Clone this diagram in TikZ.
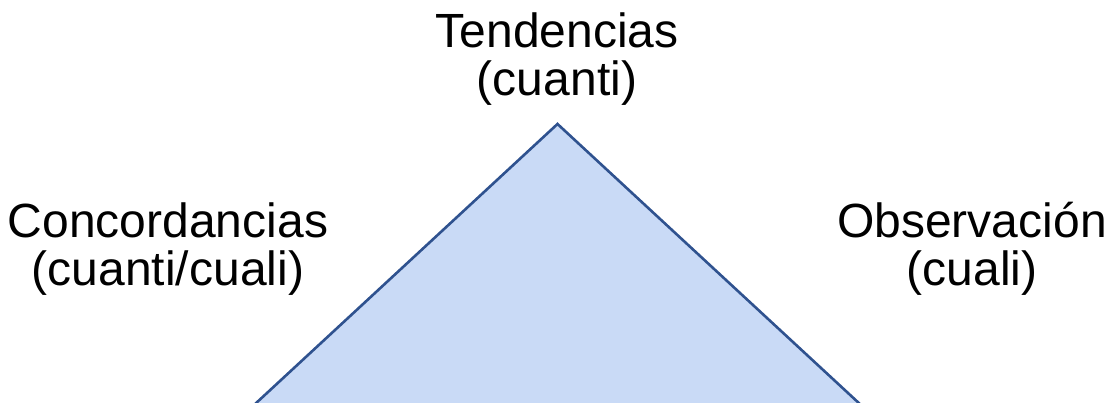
\documentclass[tikz,border=0pt]{standalone}
\usepackage{fontspec}
\setmainfont{Liberation Sans}
\definecolor{trifill}{RGB}{201,218,246}
\definecolor{tristroke}{RGB}{47,82,143}
\begin{document}
\begin{tikzpicture}[x=1pt,y=-1pt,
  lbl/.style={align=center,inner sep=0pt,anchor=base,font=\fontsize{48}{48}\selectfont}]
\useasboundingbox (0,0) rectangle (1112,402);
\begin{scope}
\clip (0,0) rectangle (1112,402);
\coordinate (apex) at (557.5,124);
\coordinate (bl) at (557.5-1.08*400,524);
\coordinate (br) at (557.5+1.08*400,524);
\draw[fill=trifill,draw=tristroke,line width=2.6pt,line join=miter] (bl) -- (apex) -- (br) -- cycle;
\end{scope}
\node[lbl] (tend) at (557,95) {Tendencias\\(cuanti)};
\node[lbl] (conc) at (168,285) {Concordancias\\(cuanti/cuali)};
\node[lbl] (obs) at (972,285) {Observación\\(cuali)};
\end{tikzpicture}
\end{document}
